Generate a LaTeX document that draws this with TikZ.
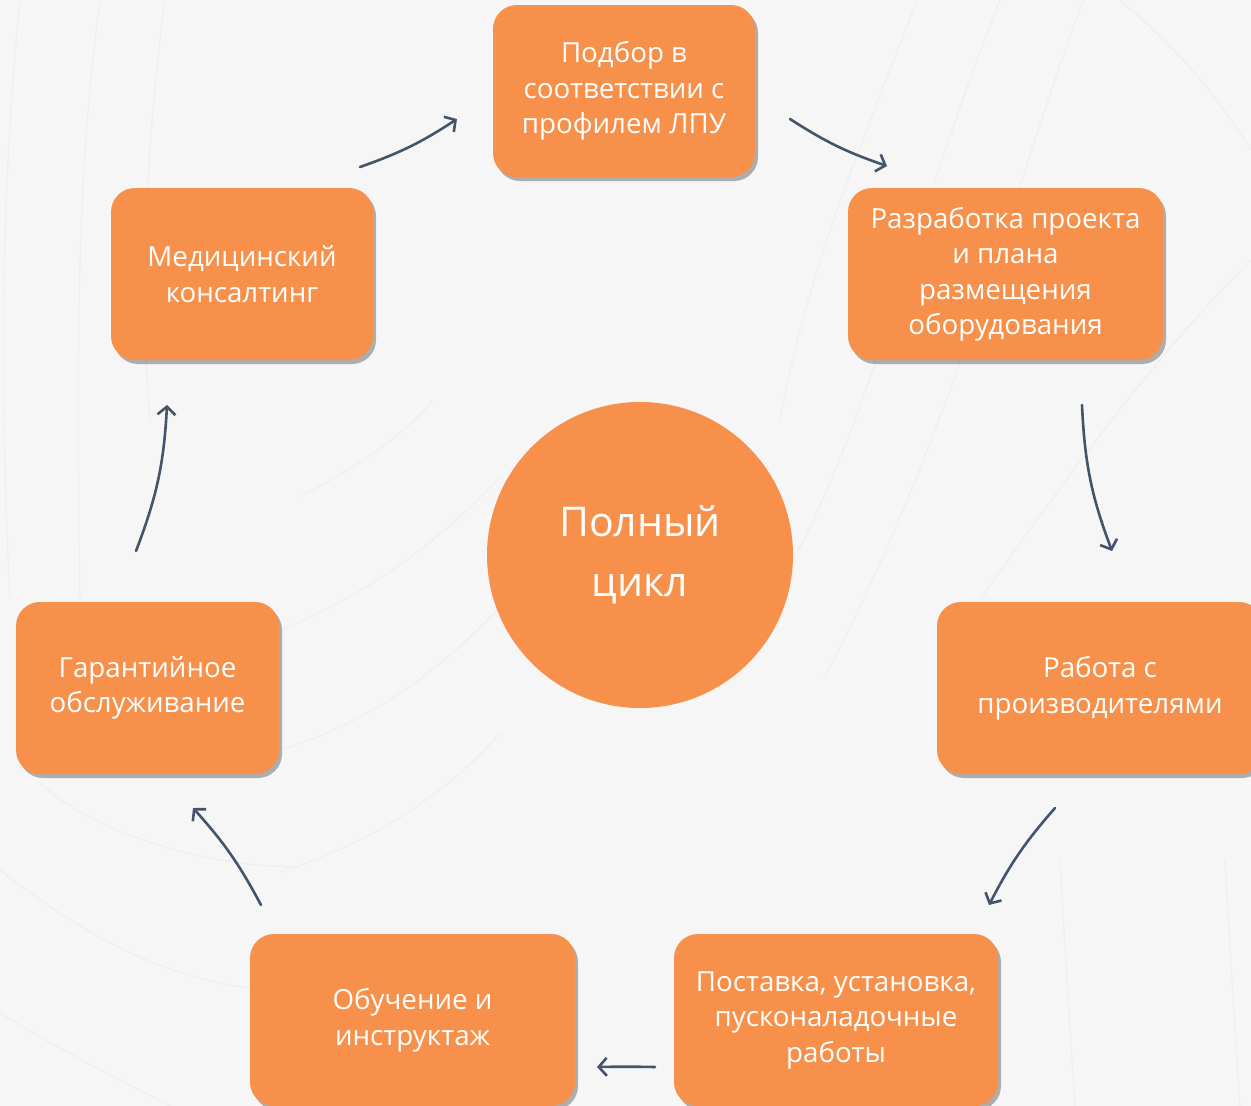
\documentclass[tikz,border=0pt]{standalone}
\usepackage{fontspec}
\setmainfont{Open Sans}
\usetikzlibrary{arrows.meta,shadows}
\definecolor{bg}{HTML}{F6F6F6}
\definecolor{boxor}{HTML}{F7904A}
\definecolor{arr}{HTML}{44546A}
\definecolor{bgline}{HTML}{EFEFEF}
\tikzset{
 stagebox/.style={rectangle, rounded corners=24pt, fill=boxor, text=white, align=center,
   minimum height=172pt, inner sep=0pt, font=\fontsize{27.7}{35.5}\selectfont,
   drop shadow={shadow xshift=3pt, shadow yshift=-4pt, opacity=0.4, fill=black!75}},
 hub/.style={circle, fill=boxor, text=white, align=center, minimum size=306pt, inner sep=0pt,
   font=\fontsize{41}{60}\selectfont},
 flow/.style={draw=arr, line width=2.6pt, line cap=round,
   -{Straight Barb[length=8pt,width=18pt]}},
 bgcurve/.style={draw=bgline, line width=1.3pt}
}
\begin{document}
\begin{tikzpicture}[x=1pt,y=-1pt]
\fill[bg] (0,0) rectangle (1251,1106);
\useasboundingbox (0,0) rectangle (1251,1106);
\clip (0,0) rectangle (1251,1106);
% faint background curves
\draw[bgcurve] (917,0) .. controls (860,150) and (810,260) .. (780,420);
\draw[bgcurve] (1000,0) .. controls (920,200) and (870,420) .. (793,560);
\draw[bgcurve] (1083,0) .. controls (1010,200) and (950,440) .. (823,680);
\draw[bgcurve] (1251,260) .. controls (1150,360) and (1050,500) .. (980,600);
\draw[bgcurve] (1120,0) .. controls (1180,50) and (1220,100) .. (1251,150);
\draw[bgcurve] (20,0) .. controls (0,200) and (0,400) .. (10,600);
\draw[bgcurve] (100,0) .. controls (80,150) and (75,300) .. (80,600);
\draw[bgcurve] (165,0) .. controls (145,150) and (140,300) .. (150,420);
\draw[bgcurve] (40,783) .. controls (90,830) and (200,867) .. (300,867);
\draw[bgcurve] (0,870) .. controls (90,940) and (180,990) .. (300,992);
\draw[bgcurve] (0,1013) .. controls (60,1050) and (120,1080) .. (170,1106);
\draw[bgcurve] (300,497) .. controls (350,470) and (400,440) .. (433,400);
\draw[bgcurve] (280,630) .. controls (380,590) and (450,530) .. (500,477);
\draw[bgcurve] (280,750) .. controls (380,720) and (450,660) .. (500,607);
\draw[bgcurve] (280,872) .. controls (380,840) and (450,790) .. (500,733);
\draw[bgcurve] (1060,860) .. controls (1065,950) and (1070,1030) .. (1075,1106);
\draw[bgcurve] (1225,860) .. controls (1230,950) and (1235,1030) .. (1240,1106);

% nodes
\node[hub] (hub) at (640,555) {Полный\\цикл};
\node[stagebox, minimum width=262pt] (s1) at (624,91) {Подбор в\\соответствии с\\профилем ЛПУ};
\node[stagebox, minimum width=315pt] (s2) at (1005.5,274) {Разработка проекта\\и плана\\размещения\\оборудования};
\node[stagebox, minimum width=326pt] (s3) at (1100,688) {Работа с\\производителями};
\node[stagebox, minimum width=324pt] (s4) at (836,1020) {Поставка, установка,\\пусконаладочные\\работы};
\node[stagebox, minimum width=325pt] (s5) at (412.5,1020) {Обучение и\\инструктаж};
\node[stagebox, minimum width=263pt] (s6) at (147.5,688) {Гарантийное\\обслуживание};
\node[stagebox, minimum width=262pt] (s7) at (242,274) {Медицинский\\консалтинг};

% arrow end points
\coordinate (a1s) at (360,167); \coordinate (a1e) at (457,119);
\coordinate (a2s) at (790,119); \coordinate (a2e) at (887,166);
\coordinate (a3s) at (1082,405); \coordinate (a3e) at (1112,551);
\coordinate (a4s) at (1055,808); \coordinate (a4e) at (989,905);
\coordinate (a5s) at (655,1067); \coordinate (a5e) at (597,1067);
\coordinate (a6s) at (261,905); \coordinate (a6e) at (193,808);
\coordinate (a7s) at (136,551); \coordinate (a7e) at (167,405);

\draw[flow] (a1s) to[bend right=7] (a1e);
\draw[flow] (a2s) to[bend right=7] (a2e);
\draw[flow] (a3s) to[bend right=9] (a3e);
\draw[flow] (a4s) to[bend right=7] (a4e);
\draw[flow] (a5s) to[bend right=1] (a5e);
\draw[flow] (a6s) to[bend right=7] (a6e);
\draw[flow] (a7s) to[bend right=9] (a7e);
\end{tikzpicture}
\end{document}
